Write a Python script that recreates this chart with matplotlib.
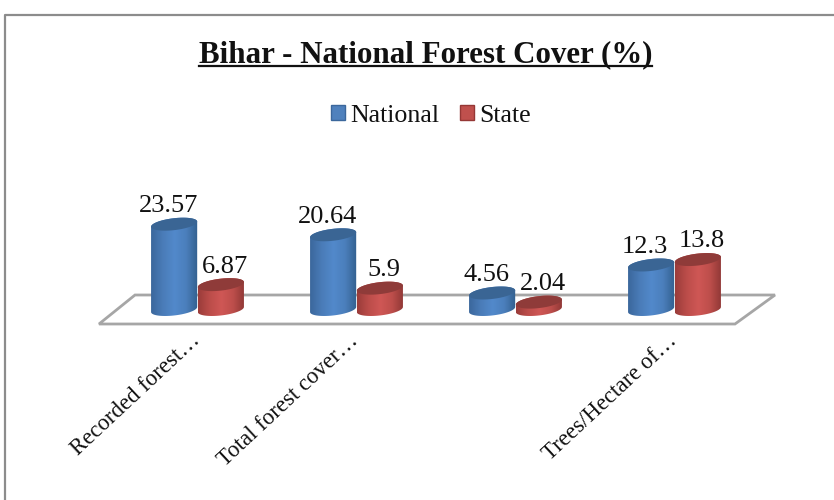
#!/usr/bin/env python3
import numpy as np
import matplotlib
matplotlib.use('Agg')
import matplotlib.pyplot as plt
from matplotlib.colors import LinearSegmentedColormap
from matplotlib.patches import Patch, PathPatch, Polygon
from matplotlib.path import Path
from matplotlib.lines import Line2D

plt.rcParams['font.family'] = ['Liberation Serif', 'DejaVu Serif']

categorias = ['Recorded forest…', 'Total forest cover…', '', 'Trees/Hectare of…']
national = [23.57, 20.64, 4.56, 12.3]
state = [6.87, 5.9, 2.04, 13.8]
rotulos_national = ['23.57', '20.64', '4.56', '12.3']
rotulos_state = ['6.87', '5.9', '2.04', '13.8']

W, H = 834, 500
LARGURA = 0.145   # meia largura do cilindro, em unidades de categoria
ELIPSE = 1.65     # meia altura da elipse, em unidades de valor
INCLINA = 0.7     # o lado direito sobe um pouco


def cilindro(ax, x, valor, cmap, cor_topo):
    """Desenha um cilindro inclinado com gradiente horizontal"""
    t = np.linspace(0, np.pi, 40)
    xs = x - LARGURA * np.cos(t)
    sobe = INCLINA * (-np.cos(t))
    base = 0 + sobe - ELIPSE * np.sin(t)
    topo_sup = valor + sobe + ELIPSE * np.sin(t)
    topo_inf = valor + sobe - ELIPSE * np.sin(t)

    corpo = np.concatenate([
        np.column_stack([xs, base]),
        np.column_stack([xs[::-1], topo_sup[::-1]]),
    ])
    path = PathPatch(Path(np.vstack([corpo, corpo[:1]])), fc='none', ec='none', zorder=3)
    ax.add_patch(path)

    grad = np.linspace(0, 1, 128).reshape(1, -1)
    img = ax.imshow(grad, extent=[x - LARGURA, x + LARGURA, -5, valor + 5],
                    aspect='auto', cmap=cmap, zorder=3, interpolation='bilinear')
    img.set_clip_path(path)

    tampa = np.concatenate([
        np.column_stack([xs, topo_sup]),
        np.column_stack([xs[::-1], topo_inf[::-1]]),
    ])
    ax.add_patch(Polygon(tampa, closed=True, fc=cor_topo, ec='none', zorder=3))


def main():
    fig = plt.figure(figsize=(W / 100, H / 100), dpi=100, facecolor='white')
    ax = fig.add_axes([0, 0, 1, 1])
    ax.axis('off')

    # piso e moldura ficam dentro do eixo, atrás dos cilindros
    piso = [(99, 324), (135, 295), (775, 295), (735, 324)]
    ax.add_patch(Polygon([(a / W, 1 - b / H) for a, b in piso], closed=True,
                         fc='white', ec='#a6a6a6', lw=2, zorder=1,
                         transform=fig.transFigure))
    ax.add_line(Line2D([4.5 / W, 4.5 / W, 1], [0, 1 - 14.5 / H, 1 - 14.5 / H],
                       color='#8c8c8c', lw=1.6, transform=fig.transFigure, zorder=1))

    azul = LinearSegmentedColormap.from_list('azul', ['#3b679c', '#4a7cb8', '#5289cb', '#4b7fbc', '#33608f'])
    vermelho = LinearSegmentedColormap.from_list('verm', ['#9a3c3a', '#bc4d4a', '#cf5755', '#bd4e4b', '#8e3735'])

    pos = np.arange(len(categorias))
    for i in pos:
        cilindro(ax, i - 0.147, national[i], azul, '#3a6594')
        cilindro(ax, i + 0.147, state[i], vermelho, '#8f3b39')
        ax.text(i - 0.185, national[i] + 5, rotulos_national[i], ha='center', va='center',
                fontsize=19, color='#111111')
        ax.text(i + 0.172, state[i] + 5, rotulos_state[i], ha='center', va='center',
                fontsize=19, color='#111111')
        ax.text(i - 0.05, -5.7, categorias[i], rotation=43, ha='right', va='top',
                rotation_mode='anchor', fontsize=16.4, color='#111111')

    # escala: 159 px por categoria, 3.62 px por unidade de valor
    ax.set_xlim(-197.5 / 159, (W - 197.5) / 159)
    ax.set_ylim(-(H - 309.5) / 3.62, 309.5 / 3.62)

    titulo = fig.text(425.5 / W, 1 - 62 / H, 'Bihar - National Forest Cover (%)',
                      ha='center', va='baseline', fontsize=22.3, fontweight='bold', color='#111111')
    fig.canvas.draw()
    caixa = titulo.get_window_extent()
    fig.add_artist(Line2D([caixa.x0 / W, caixa.x1 / W], [1 - 66 / H, 1 - 66 / H], color='#111111', lw=1.6))

    fig.legend(handles=[Patch(fc='#4f81bd', ec='#3b679c', label='National'),
                        Patch(fc='#c0504d', ec='#953735', label='State')],
               loc='center', bbox_to_anchor=(431 / W, 1 - 115.5 / H), ncols=2, frameon=False,
               fontsize=18.6, handlelength=0.56, handleheight=0.56, handletextpad=0.2,
               columnspacing=0.8, labelcolor='#111111')

    fig.savefig('out.png', dpi=100)


if __name__ == "__main__":
    main()
